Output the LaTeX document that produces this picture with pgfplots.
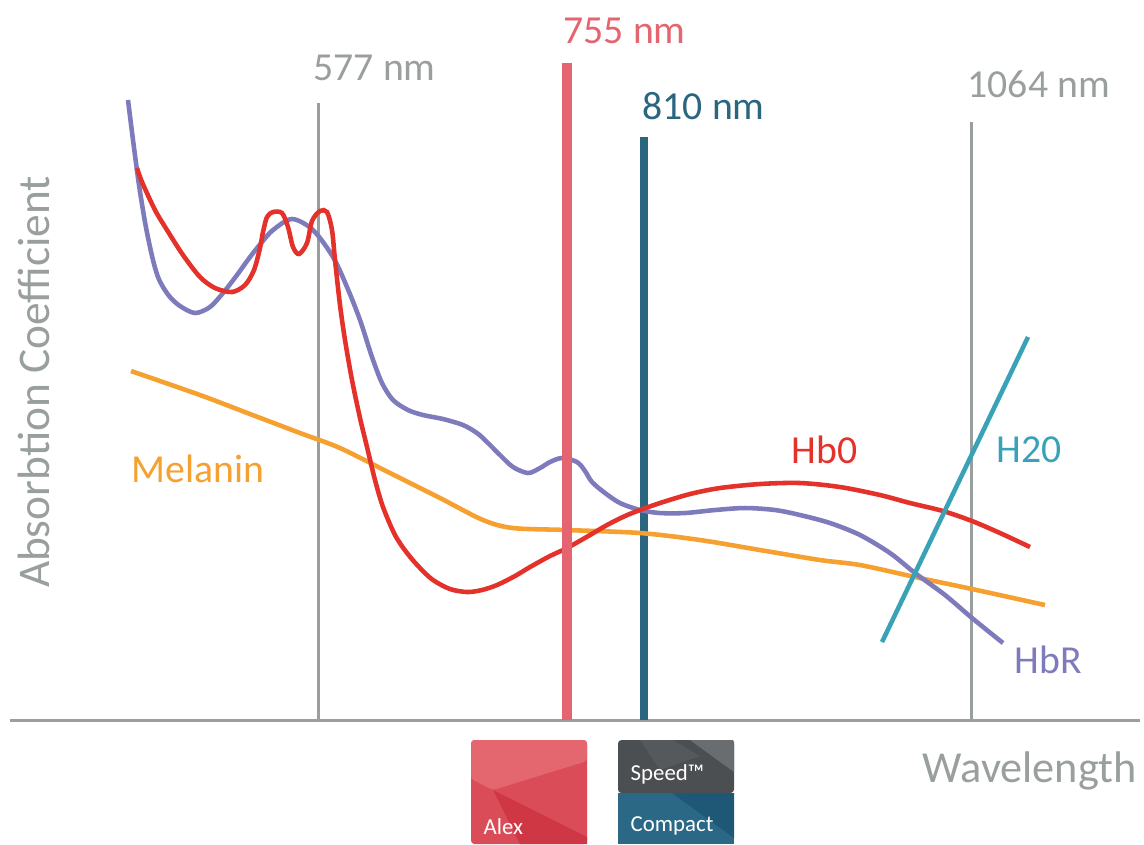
\documentclass[border=0pt]{standalone}
\usepackage{fontspec}
\setmainfont{Carlito}
\usepackage{pgfplots}
\pgfplotsset{compat=1.18}
\definecolor{lgray}{HTML}{989F9D}
\definecolor{hbo}{HTML}{E4322B}
\definecolor{hbr}{HTML}{7D7BBB}
\definecolor{mel}{HTML}{F6A02F}
\definecolor{water}{HTML}{3AA2B7}
\definecolor{alex}{HTML}{E4646F}
\definecolor{nd}{HTML}{2A6680}
\tikzset{lbl/.style={inner sep=0pt, anchor=base west, font=\fontsize{11.3}{13}\selectfont}}

\begin{document}
\begin{tikzpicture}
\begin{axis}[
    width=11.44cm, height=8.44cm, scale only axis,
    xmin=0, xmax=1144, ymin=0, ymax=844,
    y dir=reverse,
    hide axis, clip=false,
]
% reference lines
\addplot[lgray, line width=0.85pt] coordinates {(318,103) (318,720)};
\addplot[lgray, line width=0.85pt] coordinates {(971,122) (971,720)};
\addplot[lgray, line width=0.85pt] coordinates {(10,720) (1140,720)};
\addplot[nd, line width=2.3pt] coordinates {(644,137) (644,720)};

% Melanin
\addplot[mel, line width=1.3pt, smooth] coordinates {
(131,371) (200,395) (250,414) (300,433) (340,448) (390,473) (440,498)
(483,520) (513,528) (567,530) (640,533) (700,540) (760,550) (820,560)
(860,565) (915,577) (972,589) (1045,605)};

% HbR
\addplot[hbr, line width=1.3pt, smooth] coordinates {
(128,100) (133,140) (139,185) (145,222) (150,247) (154,264) (158,277) (163,287)
(170,297) (180,306) (195,313)
(210,307) (223,293) (237,275) (250,257) (262,242) (273,230) (292,219) (313,230)
(333,257) (347,287) (360,320) (372,357) (382,383) (393,400) (408,410) (423,415)
(443,419) (463,425) (477,433) (487,442) (500,455) (513,467) (528,473) (540,468)
(550,462) (562,458) (577,462) (585,471) (592,482) (605,493) (620,503) (640,510)
(660,513) (685,513) (715,510) (745,508) (775,510) (800,515) (830,523) (860,535)
(890,553) (915,573) (945,595) (972,618) (1003,643)};

% HbO
\addplot[hbo, line width=1.3pt, smooth] coordinates {
(137,168) (142,182) (155,210) (167,230) (183,255) (200,277) (215,288) (232,292)
(245,285) (254,270) (260,248) (263,232) (267,217) (273,212) (282,213) (288,227)
(293,247) (299,254) (307,243) (312,221) (320,211) (327,212) (332,230) (335,260)
(340,305) (345,340) (352,380) (360,418) (367,447) (375,480) (383,507) (395,535)
(407,553) (420,568) (433,580) (450,589) (467,592) (482,590) (497,585) (515,576)
(530,567) (550,556) (567,548) (590,535) (607,525) (625,516) (640,510) (660,503)
(690,494) (720,488) (760,484) (800,483) (840,487) (880,495) (910,503) (943,511)
(972,521) (1000,533) (1030,547)};

% H2O
\addplot[water, line width=1.3pt] coordinates {(882,642) (1028,337)};

% 755 nm bar
\addplot[alex, line width=2.6pt] coordinates {(567,63) (567,720)};

% labels
\node[lbl, text=lgray] at (axis cs:313,80) {577 nm};
\node[lbl, text=alex] at (axis cs:563,43) {755 nm};
\node[lbl, text=nd] at (axis cs:642,119) {810 nm};
\node[lbl, text=lgray] at (axis cs:967,97) {1064 nm};
\node[lbl, text=mel] at (axis cs:131,482) {Melanin};
\node[lbl, text=hbo] at (axis cs:791,463) {Hb0};
\node[lbl, text=water] at (axis cs:996,462) {H20};
\node[lbl, text=hbr] at (axis cs:1014,673) {HbR};
\node[lbl, text=lgray, font=\fontsize{12.6}{14}\selectfont] at (axis cs:922,782) {Wavelength};
\node[inner sep=0pt, anchor=base, rotate=90, text=lgray, font=\fontsize{12.9}{14}\selectfont] at (axis cs:49,382) {Absorbtion Coefficient};

% Alex badge
\fill[color={rgb,255:red,218;green,77;blue,88}, rounded corners=1pt] (axis cs:471,844) -- (axis cs:471,740) -- (axis cs:587,740) -- (axis cs:587,844) -- cycle;
\fill[color={rgb,255:red,228;green,102;blue,111}, rounded corners=1pt] (axis cs:471,779) -- (axis cs:471,740) -- (axis cs:587,740) -- (axis cs:587,761) -- (axis cs:493,790) -- cycle;
\fill[color={rgb,255:red,208;green,55;blue,68}] (axis cs:493,790) -- (axis cs:587,837) -- (axis cs:587,844) -- (axis cs:520,844) -- cycle;
\node[lbl, text=white, font=\fontsize{6.5}{7}\selectfont] at (axis cs:483,834) {Alex};

% Speed / Compact badge
\fill[color={rgb,255:red,76;green,79;blue,82}, rounded corners=1pt] (axis cs:618,793) -- (axis cs:618,740) -- (axis cs:734,740) -- (axis cs:734,793) -- cycle;
\fill[color={rgb,255:red,86;green,89;blue,92}] (axis cs:640,740) -- (axis cs:673,740) -- (axis cs:700,756) -- (axis cs:660,770) -- cycle;
\fill[color={rgb,255:red,106;green,109;blue,112}] (axis cs:690,740) -- (axis cs:733,740) -- (axis cs:734,742) -- (axis cs:734,772) -- cycle;
\fill[color={rgb,255:red,43;green,104;blue,134}] (axis cs:618,793) -- (axis cs:734,793) -- (axis cs:734,844) -- (axis cs:618,844) -- cycle;
\fill[color={rgb,255:red,31;green,88;blue,119}] (axis cs:672,793) -- (axis cs:734,793) -- (axis cs:734,838) -- cycle;
\node[lbl, text=white, font=\fontsize{6.5}{7}\selectfont] at (axis cs:630,780) {Speed™};
\node[lbl, text=white, font=\fontsize{6.5}{7}\selectfont] at (axis cs:630,831) {Compact};

\coordinate (bl) at (axis cs:0,844);
\coordinate (tr) at (axis cs:1144,0);
\end{axis}
\pgfresetboundingbox
\path[use as bounding box] (bl) rectangle (tr);
\end{tikzpicture}
\end{document}
